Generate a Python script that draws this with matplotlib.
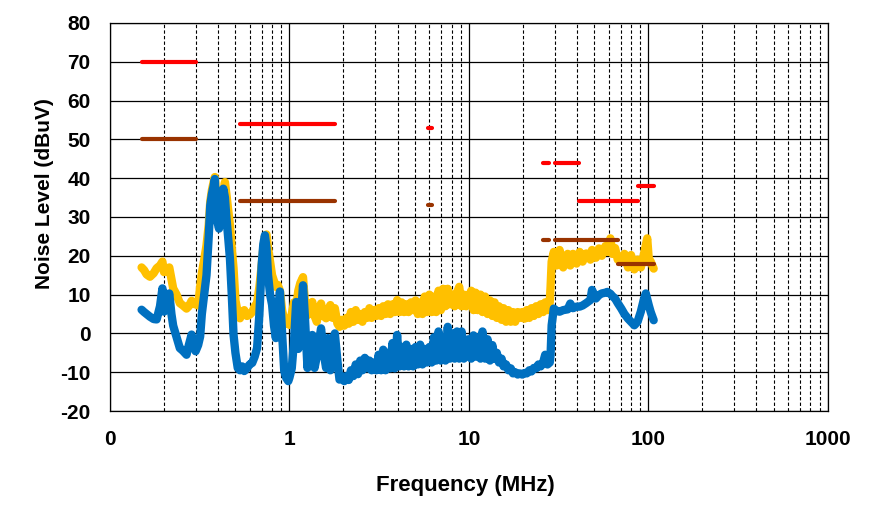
import matplotlib
matplotlib.use('Agg')
import matplotlib.pyplot as plt
import numpy as np
from matplotlib.ticker import FixedLocator, NullFormatter

plt.rcParams['font.family'] = ['Liberation Sans', 'DejaVu Sans']
plt.rcParams['font.weight'] = 'bold'
plt.rcParams['axes.unicode_minus'] = False

# frequency points (MHz) shared by both traces
freq = [0.150, 0.155, 0.160, 0.167, 0.175, 0.182, 0.190, 0.196, 0.200, 0.205,
        0.214, 0.220, 0.225, 0.235, 0.245, 0.255, 0.267, 0.275, 0.285, 0.293,
        0.300, 0.310, 0.318, 0.325, 0.335, 0.345, 0.355, 0.362, 0.370, 0.378,
        0.384, 0.390, 0.397, 0.405, 0.412, 0.420, 0.428, 0.437, 0.445, 0.455,
        0.466, 0.477, 0.488, 0.500, 0.515, 0.530, 0.545, 0.560, 0.580, 0.600,
        0.620, 0.640, 0.660, 0.680, 0.700, 0.715, 0.730, 0.745, 0.760, 0.780,
        0.800, 0.820, 0.840, 0.860, 0.885, 0.910, 0.935, 0.960, 0.985,
        1.00, 1.03, 1.06, 1.09, 1.12, 1.15, 1.19, 1.22, 1.26, 1.30,
        1.34, 1.38, 1.42, 1.46, 1.50, 1.55, 1.60, 1.64, 1.69, 1.74,
        1.79, 1.85, 1.90, 1.96, 2.02, 2.08, 2.14, 2.20, 2.27, 2.34,
        2.41, 2.48, 2.55, 2.63, 2.71, 2.79, 2.87, 2.96, 3.05, 3.14,
        3.24, 3.33, 3.43, 3.54, 3.64, 3.75, 3.86, 3.98, 4.10, 4.22,
        4.35, 4.48, 4.61, 4.75, 4.89, 5.04, 5.19, 5.35, 5.51, 5.67,
        5.84, 6.02, 6.20, 6.38, 6.57, 6.77, 6.97, 7.18, 7.40, 7.62,
        7.85, 8.08, 8.33, 8.58, 8.83, 9.10, 9.37, 9.65,
        10.0, 10.3, 10.6, 10.9, 11.2, 11.6, 11.9, 12.3, 12.7, 13.1,
        13.5, 13.9, 14.3, 14.7, 15.2, 15.6, 16.1, 16.6, 17.1, 17.6,
        18.1, 18.7, 19.2, 19.8, 20.4, 21.0, 21.7, 22.3, 23.0, 23.7,
        24.4, 25.1, 25.9, 26.6, 27.4, 28.2,
        28.5, 28.9, 29.7, 30.8, 32.0, 33.5, 35.5, 36.7, 38.0, 39.8,
        41.4, 43.0, 45.0, 47.5, 48.5, 51.0, 53.0, 55.0, 57.6, 59.0,
        61.4, 63.0, 65.2, 67.5, 70.6, 73.5, 77.0, 80.0, 83.5, 87.0,
        90.7, 94.0, 96.7, 98.5, 100.4, 103.0, 107.0]

# peak detector trace (yellow)
peak = [17.0, 16.3, 15.2, 14.6, 15.5, 16.8, 17.5, 18.5, 15.8, 16.0,
        17.0, 14.0, 11.6, 10.0, 7.8, 7.2, 6.4, 7.0, 8.4, 7.6,
        7.5, 7.2, 12.0, 15.5, 19.0, 22.7, 28.0, 34.0, 37.0, 39.0,
        40.3, 36.0, 33.0, 30.0, 29.0, 33.0, 36.5, 39.0, 36.0, 32.0,
        27.9, 22.0, 16.8, 8.5, 5.5, 3.9, 5.5, 6.0, 4.5, 4.8,
        5.5, 7.0, 7.8, 12.0, 17.6, 22.0, 25.0, 25.5, 22.0, 18.5,
        15.0, 13.5, 12.0, 12.5, 11.0, 6.0, 3.5, 2.5, 3.0,
        2.2, 5.0, 8.0, 6.5, 11.0, 13.0, 14.5, 8.0, 4.7, 7.5,
        8.1, 4.5, 3.0, 6.0, 7.7, 4.5, 3.9, 6.0, 7.3, 4.0,
        6.5, 2.5, 1.7, 3.5, 2.0, 4.0, 2.5, 5.5, 3.0, 6.0,
        3.5, 5.0, 3.0, 5.5, 4.0, 6.5, 4.0, 6.0, 4.5, 6.5,
        4.5, 7.0, 5.0, 7.5, 5.0, 7.5, 5.5, 8.6, 5.5, 8.0,
        5.5, 7.5, 5.5, 8.0, 6.0, 8.5, 5.0, 8.0, 5.0, 9.5,
        5.5, 10.0, 5.5, 9.5, 5.5, 11.0, 6.0, 11.5, 7.0, 11.5,
        7.5, 10.0, 7.0, 10.5, 12.0, 7.0, 10.0, 7.0,
        9.5, 11.0, 6.0, 10.5, 6.0, 10.0, 5.5, 9.5, 5.0, 8.5,
        4.5, 8.0, 4.0, 7.0, 3.5, 6.5, 3.0, 6.0, 3.0, 5.5,
        3.0, 5.5, 4.0, 5.5, 3.8, 6.0, 4.0, 6.5, 4.5, 7.0,
        5.0, 7.5, 5.5, 8.0, 6.0, 8.0,
        12.0, 18.5, 21.0, 17.5, 21.5, 17.0, 20.5, 17.5, 20.5, 18.0,
        21.0, 18.5, 20.6, 19.0, 21.5, 19.5, 21.9, 20.0, 22.5, 21.0,
        24.5, 20.5, 22.0, 19.0, 18.5, 20.5, 17.0, 20.2, 16.5, 19.0,
        17.0, 20.0, 22.7, 24.5, 19.3, 18.5, 16.7]

# average detector trace (blue)
avg = [6.1, 5.5, 5.0, 4.3, 3.7, 3.6, 7.0, 11.6, 5.6, 7.0,
       10.3, 5.0, 2.0, -1.0, -3.8, -4.5, -5.5, -3.0, -0.3, -3.0,
       -4.6, -3.0, -0.8, 5.0, 10.0, 15.0, 25.0, 33.0, 36.0, 38.0,
       39.8, 32.0, 28.7, 27.0, 30.0, 34.0, 37.3, 35.0, 30.0, 25.0,
       19.3, 10.0, -0.3, -5.0, -8.9, -9.5, -8.5, -9.7, -9.0, -8.0,
       -7.6, -6.0, -3.8, 5.0, 17.6, 23.0, 25.3, 22.0, 15.0, 10.0,
       7.4, 2.0, -1.2, 5.0, 10.8, 0.0, -9.7, -11.5, -12.3,
       -11.4, -9.0, -2.0, 8.1, -4.0, 2.0, 12.4, 4.0, -8.9, -3.0,
       -0.4, -8.9, -6.0, -2.1, 1.3, -5.0, -8.9, -1.2, -9.5, -3.0,
       0.0, -7.0, -11.9, -11.0, -12.3, -11.0, -12.0, -9.5, -11.0, -8.0,
       -10.5, -7.0, -9.5, -6.3, -9.0, -7.0, -9.5, -7.5, -9.5, -5.5,
       -9.5, -4.2, -9.5, -5.0, -9.0, -2.5, -9.0, -0.4, -8.5, -3.5,
       -8.5, -2.9, -8.5, -4.0, -8.5, -3.5, -8.0, -2.9, -8.0, -4.0,
       -7.5, -3.5, -7.5, -1.0, -7.0, 0.5, -7.0, -1.0, -7.0, 1.7,
       -6.5, 0.0, -6.5, 0.5, -6.5, 0.5, -6.5, -1.7,
       -1.5, -6.5, -0.5, -6.0, -1.0, -6.5, 0.5, -6.5, -1.5, -7.0,
       -3.0, -6.5, -5.0, -7.5, -6.5, -8.5, -8.0, -9.5, -9.0, -10.3,
       -10.0, -10.6, -10.3, -10.6, -10.2, -10.3, -9.5, -9.8, -8.9, -9.0,
       -8.0, -8.5, -7.5, -5.5, -8.0, -7.5,
       -5.6, 2.1, 6.4, 5.8, 5.6, 6.0, 6.2, 7.7, 6.5, 6.9,
       6.9, 7.2, 7.8, 8.6, 11.2, 9.0, 9.9, 10.3, 10.5, 10.7,
       10.2, 9.6, 9.0, 7.8, 6.4, 5.0, 3.8, 3.0, 2.1, 3.0,
       5.6, 8.5, 10.3, 8.8, 7.3, 5.5, 3.4]

# limit lines: (start MHz, stop MHz, level dBuV)
peak_limits = [(0.15, 0.30, 70), (0.53, 1.8, 54), (5.9, 6.2, 53), (26, 28, 44),
               (30, 41, 44), (41, 88, 34), (88, 108, 38)]
avg_limits = [(0.15, 0.30, 50), (0.53, 1.8, 34), (5.9, 6.2, 33), (26, 28, 24),
              (30, 68, 24), (68, 108, 18)]

xticks = [0.1, 1, 10, 100, 1000]
xticklabels = ['0', '1', '10', '100', '1000']
yticks = list(range(-20, 81, 10))

fig = plt.figure(figsize=(8.77, 5.21), dpi=100)
ax = fig.add_axes([0.1254, 0.2111, 0.8186, 0.7448])

ax.plot(freq, peak, color='#FFC000', lw=6, solid_joinstyle='round',
        solid_capstyle='round', zorder=3)
ax.plot(freq, avg, color='#0070C0', lw=6, solid_joinstyle='round',
        solid_capstyle='round', zorder=4)

for f0, f1, lvl in peak_limits:
    ax.plot([f0, f1], [lvl, lvl], color='#FF0000', lw=3, solid_capstyle='round', zorder=5)
for f0, f1, lvl in avg_limits:
    ax.plot([f0, f1], [lvl, lvl], color='#993300', lw=3, solid_capstyle='round', zorder=5)

ax.set_xscale('log')
ax.set_xlim(0.1, 1000)
ax.set_ylim(-20, 80)
ax.xaxis.set_major_locator(FixedLocator(xticks))
ax.set_xticklabels(xticklabels)
ax.xaxis.set_minor_locator(FixedLocator(
    [m * d for d in [0.1, 1, 10, 100] for m in range(2, 10)]))
ax.xaxis.set_minor_formatter(NullFormatter())
ax.set_yticks(yticks)

ax.grid(which='major', axis='both', color='black', lw=0.9, ls='-', zorder=1)
ax.grid(which='minor', axis='x', color='black', lw=0.8, ls=(0, (3, 2)), zorder=1)
ax.set_axisbelow(True)
ax.tick_params(which='both', length=0)
ax.tick_params(axis='x', pad=14, labelsize=15)
ax.tick_params(axis='y', pad=14, labelsize=15)
for sp in ax.spines.values():
    sp.set_color('black')
    sp.set_linewidth(0.9)

ax.set_xlabel('Frequency (MHz)', fontsize=16, fontweight='bold')
ax.set_ylabel('Noise Level (dBuV)', fontsize=15, fontweight='bold')
ax.xaxis.set_label_coords(0.495, -0.165)
ax.yaxis.set_label_coords(-0.078, 0.56)

fig.savefig('out.png', dpi=100)
